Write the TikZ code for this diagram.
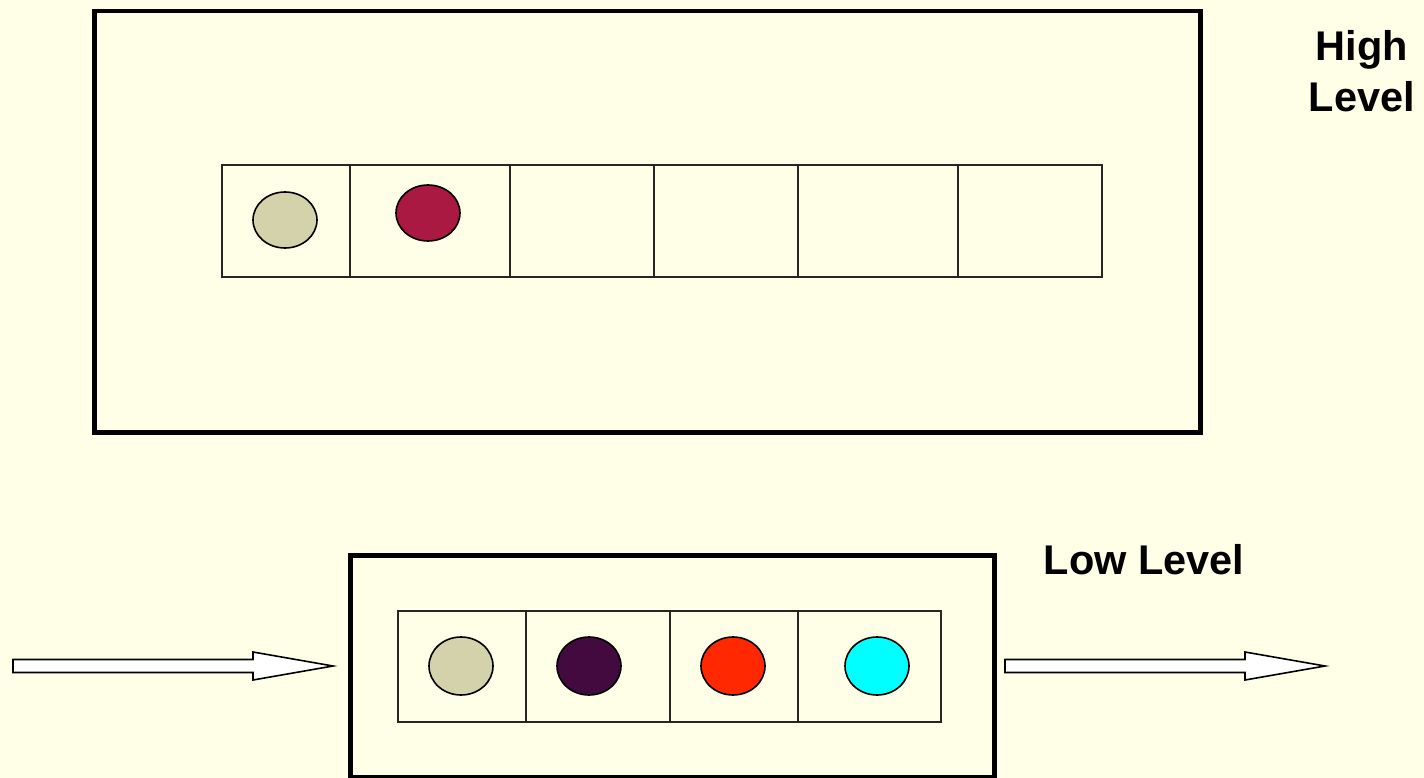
\documentclass[tikz,border=0pt]{standalone}
\usepackage{fontspec}
\setmainfont{Liberation Sans}
\usetikzlibrary{shapes.geometric}
\definecolor{bg}{HTML}{FFFFE8}
\definecolor{beige}{HTML}{D4D2AA}
\definecolor{wine}{HTML}{AA1942}
\definecolor{plum}{HTML}{430A40}
\definecolor{redorange}{HTML}{FF2800}
\definecolor{aqua}{HTML}{00FFFF}
\begin{document}
\begin{tikzpicture}[x=1pt,y=-1pt,
  frame/.style={draw=black,line width=4.5pt,inner sep=0pt,anchor=north west},
  cell/.style={draw=black!85,line width=1.6pt,inner sep=0pt,anchor=north west,minimum height=112pt},
  dot/.style={ellipse,draw=black,line width=1.6pt,inner sep=0pt,minimum width=64pt,minimum height=56pt},
  fatarrow/.style={draw=black,line width=1.6pt,fill=white,line join=miter},
  lbl/.style={font=\fontsize{41.5}{51}\selectfont\bfseries,align=center,inner sep=0pt}]
\fill[bg] (0,0) rectangle (1424,778);
\useasboundingbox (0,0) rectangle (1424,778);
% high level
\node[frame,minimum width=1106pt,minimum height=421pt] (hi) at (92,9) {};
\node[cell,minimum width=128pt] (h1) at (221,164) {};
\node[cell,minimum width=160pt] (h2) at (349,164) {};
\node[cell,minimum width=144pt] (h3) at (509,164) {};
\node[cell,minimum width=144pt] (h4) at (653,164) {};
\node[cell,minimum width=160pt] (h5) at (797,164) {};
\node[cell,minimum width=144pt] (h6) at (957,164) {};
\node[dot,fill=beige] (hd1) at (285,220) {};
\node[dot,fill=wine] (hd2) at (428,213) {};
\node[lbl] (hl) at (1362,71) {High\\Level};
% low level
\node[frame,minimum width=644pt,minimum height=222pt] (lo) at (348,553) {};
\node[cell,minimum width=128pt,minimum height=111pt] (l1) at (397,610) {};
\node[cell,minimum width=144pt,minimum height=111pt] (l2) at (525,610) {};
\node[cell,minimum width=128pt,minimum height=111pt] (l3) at (669,610) {};
\node[cell,minimum width=143pt,minimum height=111pt] (l4) at (797,610) {};
\node[dot,fill=beige,minimum height=58pt] (ld1) at (461,666) {};
\node[dot,fill=plum,minimum height=58pt] (ld2) at (589,666) {};
\node[dot,fill=redorange,minimum height=58pt] (ld3) at (733,666) {};
\node[dot,fill=aqua,minimum height=58pt] (ld4) at (877,666) {};
\node[lbl] (ll) at (1144,560) {Low Level};
% arrows
\coordinate (inA) at (13,666);
\coordinate (inB) at (333,666);
\coordinate (outA) at (1005,666);
\coordinate (outB) at (1325,666);
\draw[fatarrow] ([yshift=-6.5pt]inA) -- ([xshift=-80pt,yshift=-6.5pt]inB) -- ([xshift=-80pt,yshift=-14pt]inB) -- (inB)
  -- ([xshift=-80pt,yshift=14pt]inB) -- ([xshift=-80pt,yshift=6.5pt]inB) -- ([yshift=6.5pt]inA) -- cycle;
\draw[fatarrow] ([yshift=-6.5pt]outA) -- ([xshift=-80pt,yshift=-6.5pt]outB) -- ([xshift=-80pt,yshift=-14pt]outB) -- (outB)
  -- ([xshift=-80pt,yshift=14pt]outB) -- ([xshift=-80pt,yshift=6.5pt]outB) -- ([yshift=6.5pt]outA) -- cycle;
\end{tikzpicture}
\end{document}
